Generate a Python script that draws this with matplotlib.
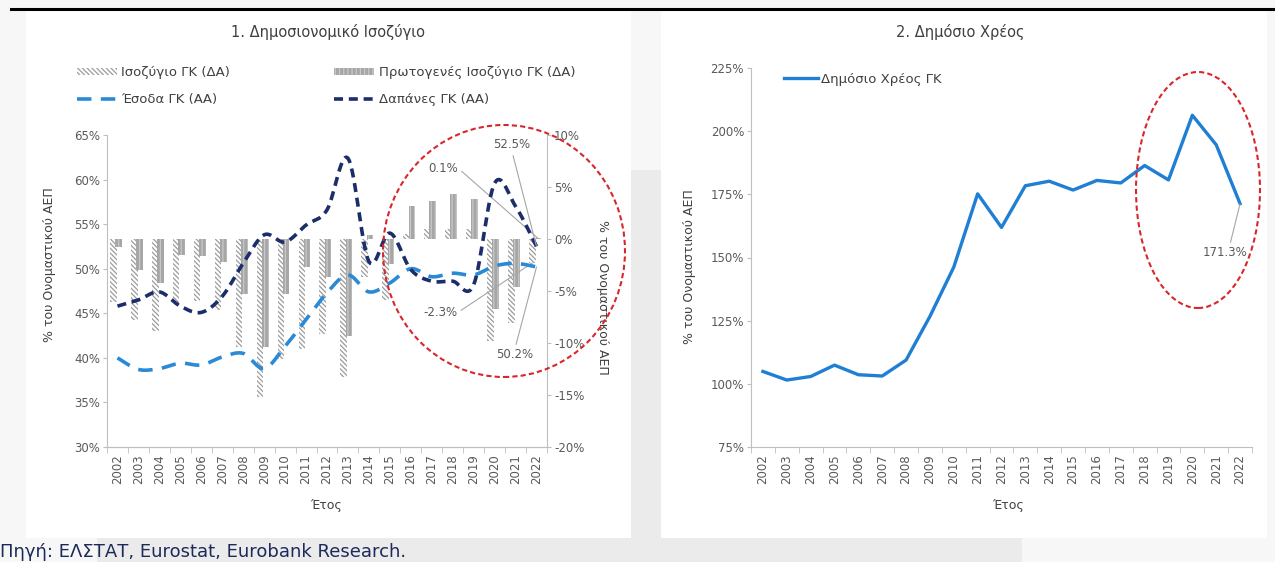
import numpy as np
import matplotlib
matplotlib.use('Agg')
import matplotlib.pyplot as plt
from matplotlib.patches import Ellipse, Rectangle, Patch
from matplotlib.lines import Line2D

plt.rcParams['font.family'] = ['DejaVu Sans']
plt.rcParams['hatch.linewidth'] = 0.9

# ---------------- data ----------------
years = [str(y) for y in range(2002, 2023)]
balance = [-6.1, -7.8, -8.8, -6.2, -6.0, -6.8, -10.4, -15.2, -11.5, -10.6, -9.1,
           -13.3, -3.7, -5.9, 0.5, 1.0, 1.0, 1.0, -9.8, -8.1, -2.3]
primary = [-0.8, -3.0, -4.2, -1.5, -1.6, -2.2, -5.3, -10.4, -5.3, -2.7, -3.7,
           -9.3, 0.4, -2.4, 3.2, 3.7, 4.3, 3.8, -6.7, -4.6, 0.1]
revenue = [40.0, 38.7, 38.8, 39.4, 39.2, 40.1, 40.5, 38.8, 41.3, 44.3, 47.3,
           49.3, 47.4, 48.4, 50.0, 49.1, 49.5, 49.3, 50.3, 50.6, 50.2]
expenditure = [45.8, 46.5, 47.4, 45.8, 45.1, 46.9, 50.6, 53.8, 53.0, 54.9, 56.6,
               62.4, 50.8, 54.0, 49.9, 48.6, 48.6, 48.2, 59.6, 57.0, 52.5]
debt = [104.9, 101.5, 102.9, 107.4, 103.6, 103.1, 109.4, 126.7, 146.2, 175.2, 161.9,
        178.4, 180.2, 176.7, 180.5, 179.5, 186.4, 180.7, 206.3, 194.6, 171.3]

left_ticks = [30, 35, 40, 45, 50, 55, 60, 65]
right_ticks = [-20, -15, -10, -5, 0, 5, 10]
debt_ticks = [75, 100, 125, 150, 175, 200, 225]

title1 = '1. Δημοσιονομικό Ισοζύγιο'
title2 = '2. Δημόσιο Χρέος'
ylab = '% του Ονομαστικού ΑΕΠ'
xlab = 'Έτος'
lab_bal = 'Ισοζύγιο ΓΚ (ΔΑ)'
lab_prim = 'Πρωτογενές Ισοζύγιο ΓΚ (ΔΑ)'
lab_rev = 'Έσοδα ΓΚ (ΑΑ)'
lab_exp = 'Δαπάνες ΓΚ (ΑΑ)'
lab_debt = 'Δημόσιο Χρέος ΓΚ'
source = 'Πηγή: ΕΛΣΤΑΤ, Eurostat, Eurobank Research.'

# ---------------- style ----------------
W, H = 1275, 562
TXT = '#595959'
SPINE = '#bfbfbf'
C_REV = '#2a8ad6'
C_EXP = '#1c2d6b'
C_DEBT = '#1f7fd4'
C_RED = '#d9262b'
C_HATCH = '#9c9c9c'
C_PRIM = '#a6a6a6'
HATCH_B = '\\\\\\\\\\\\\\'
TS = 8.5


def fx(px):
    return px / W


def fy(py):
    return 1 - py / H


def smooth(xs, ys, n=16):
    P = np.column_stack([np.asarray(xs, float), np.asarray(ys, float)])
    out = [P[0]]
    t = np.linspace(0, 1, n)[1:, None]
    for i in range(len(P) - 1):
        p0 = P[i - 1] if i > 0 else P[i]
        p1, p2 = P[i], P[i + 1]
        p3 = P[i + 2] if i + 2 < len(P) else P[i + 1]
        c1 = p1 + (p2 - p0) / 6
        c2 = p2 - (p3 - p1) / 6
        seg = (1 - t) ** 3 * p1 + 3 * (1 - t) ** 2 * t * c1 + 3 * (1 - t) * t ** 2 * c2 + t ** 3 * p2
        out.extend(seg)
    out = np.array(out)
    return out[:, 0], out[:, 1]


fig = plt.figure(figsize=(W / 100, H / 100), dpi=100, facecolor='#f7f7f7')


def rect(x0, y0, x1, y1, color):
    fig.add_artist(Rectangle((fx(x0), fy(y1)), fx(x1) - fx(x0), fy(y0) - fy(y1),
                             transform=fig.transFigure, facecolor=color,
                             edgecolor='none', zorder=-10))


rect(26, 10, 631, 538, 'white')
rect(661, 10, 1267, 538, 'white')
rect(631, 170, 661, 538, '#ebebeb')
rect(97, 538, 1022, 562, '#ebebeb')
fig.add_artist(Line2D([fx(11), 1], [fy(9), fy(9)], transform=fig.transFigure,
                      color='black', lw=2.2, zorder=5))

x = np.arange(len(years))

# ---------------- left chart ----------------
axL = fig.add_axes([fx(107), fy(447), fx(547) - fx(107), fy(135) - fy(447)])
axB = axL.twinx()
axL.set_zorder(axB.get_zorder() + 1)
axL.patch.set_visible(False)
axB.patch.set_visible(False)

axB.bar(x - 0.2, balance, width=0.32, facecolor='white', edgecolor=C_HATCH,
        hatch=HATCH_B, lw=0, zorder=2)
axB.bar(x + 0.05, primary, width=0.32, facecolor=C_PRIM, edgecolor='#c8c8c8',
        hatch='||||', lw=0, zorder=3)

sx, sy = smooth(x, revenue)
axL.plot(sx, sy, color=C_REV, lw=2.6, linestyle=(0, (4, 2.6)), solid_capstyle='butt')
sx, sy = smooth(x, expenditure)
axL.plot(sx, sy, color=C_EXP, lw=2.6, linestyle=(0, (2.5, 1.6)), solid_capstyle='butt')

axL.set_xlim(-0.5, len(years) - 0.5)
axL.set_ylim(30, 65)
axB.set_ylim(-20, 10)
axL.set_yticks(left_ticks)
axL.set_yticklabels([f'{v}%' for v in left_ticks])
axB.set_yticks(right_ticks)
axB.set_yticklabels([f'{v}%' for v in right_ticks])

for a in (axL, axB):
    for s in a.spines.values():
        s.set_color(SPINE)
    a.spines['top'].set_visible(False)
axL.spines['right'].set_visible(False)
axB.spines['left'].set_visible(False)

axL.set_xticks(x)
axL.set_xticklabels(years, rotation=90)
axL.set_xticks(np.arange(-0.5, len(years), 1), minor=True)
axL.tick_params(axis='x', which='major', length=0, pad=5, labelsize=TS, labelcolor=TXT)
axL.tick_params(axis='x', which='minor', length=4, color=SPINE)
axL.tick_params(axis='y', length=3, color=SPINE, labelsize=TS, labelcolor=TXT, pad=2)
axB.tick_params(axis='y', length=3, color=SPINE, labelsize=TS, labelcolor=TXT, pad=2)

# annotations (left)
arrow = dict(arrowstyle='-', color='#a6a6a6', lw=0.8, shrinkA=1, shrinkB=0)
axB.annotate('0.1%', xy=(x[-1] + 0.05, primary[-1]), xytext=(443, H - 168),
             textcoords='figure pixels', ha='center', va='center', fontsize=TS, color=TXT,
             arrowprops=dict(arrow, relpos=(1, 0.5)))
axL.annotate('52.5%', xy=(x[-1], expenditure[-1]), xytext=(512, H - 145),
             textcoords='figure pixels', ha='center', va='center', fontsize=TS, color=TXT,
             arrowprops=dict(arrow, relpos=(0.5, 0)))
axL.annotate('50.2%', xy=(x[-1], revenue[-1]), xytext=(515, H - 355),
             textcoords='figure pixels', ha='center', va='center', fontsize=TS, color=TXT,
             arrowprops=dict(arrow, relpos=(0.5, 1)))
axB.annotate('-2.3%', xy=(x[-1] - 0.2, balance[-1]), xytext=(440, H - 313),
             textcoords='figure pixels', ha='center', va='center', fontsize=TS, color=TXT,
             arrowprops=dict(arrow, relpos=(1, 0.5)))

# legend (left)
handles = [Patch(facecolor='white', edgecolor=C_HATCH, hatch=HATCH_B, lw=0),
           Line2D([], [], color=C_REV, lw=2.6, linestyle=(0, (4, 2.6))),
           Patch(facecolor=C_PRIM, edgecolor='#c8c8c8', hatch='||||', lw=0),
           Line2D([], [], color=C_EXP, lw=2.6, linestyle=(0, (2.5, 1.6)))]
labels = [lab_bal, lab_rev, lab_prim, lab_exp]
fig.legend(handles, labels, ncol=2, loc='upper left', bbox_to_anchor=(fx(77), fy(66)),
           frameon=False, fontsize=9.5, labelcolor='#404040', handlelength=3.0,
           handleheight=0.45, handletextpad=0.35, columnspacing=7.9, labelspacing=1.05,
           borderpad=0, borderaxespad=0)

fig.text(fx(328), fy(32), title1, ha='center', va='center', fontsize=10.5, color='#404040')
fig.text(fx(50), fy(265), ylab, ha='center', va='center', rotation=90, fontsize=9, color='#404040')
fig.text(fx(603), fy(297), ylab, ha='center', va='center', rotation=270, fontsize=9, color='#404040')
fig.text(fx(326), fy(506), xlab, ha='center', va='center', fontsize=9, color='#404040')

# ---------------- right chart ----------------
axR = fig.add_axes([fx(751), fy(447), fx(1252) - fx(751), fy(68) - fy(447)])
axR.patch.set_visible(False)
ln, = axR.plot(x, debt, color=C_DEBT, lw=2.4, solid_joinstyle='round')
axR.set_xlim(-0.5, len(years) - 0.5)
axR.set_ylim(75, 225)
axR.set_yticks(debt_ticks)
axR.set_yticklabels([f'{v}%' for v in debt_ticks])
for s in axR.spines.values():
    s.set_color(SPINE)
axR.spines['top'].set_visible(False)
axR.spines['right'].set_visible(False)
axR.set_xticks(x)
axR.set_xticklabels(years, rotation=90)
axR.set_xticks(np.arange(-0.5, len(years), 1), minor=True)
axR.tick_params(axis='x', which='major', length=0, pad=5, labelsize=TS, labelcolor=TXT)
axR.tick_params(axis='x', which='minor', length=4, color=SPINE)
axR.tick_params(axis='y', length=3, color=SPINE, labelsize=TS, labelcolor=TXT, pad=2)

axR.annotate('171.3%', xy=(x[-1], debt[-1]), xytext=(1225, H - 253),
             textcoords='figure pixels', ha='center', va='center', fontsize=TS, color=TXT,
             arrowprops=dict(arrow, relpos=(0.6, 1)))
axR.legend([ln], [lab_debt], loc='upper left', bbox_to_anchor=(fx(784), fy(73)),
           bbox_transform=fig.transFigure, frameon=False, fontsize=9.5, labelcolor='#404040',
           handlelength=2.6, handletextpad=0.2, borderpad=0, borderaxespad=0)

fig.text(fx(960), fy(32), title2, ha='center', va='center', fontsize=10.5, color='#404040')
fig.text(fx(690), fy(267), ylab, ha='center', va='center', rotation=90, fontsize=9, color='#404040')
fig.text(fx(1008), fy(506), xlab, ha='center', va='center', fontsize=9, color='#404040')

# ---------------- red ellipses ----------------
fig.add_artist(Ellipse((fx(504), fy(251)), fx(242), 252 / H, transform=fig.transFigure,
                       fill=False, edgecolor=C_RED, lw=1.5, linestyle=(0, (2.5, 1.5)), zorder=6))
fig.add_artist(Ellipse((fx(1198), fy(190)), fx(124), 236 / H, transform=fig.transFigure,
                       fill=False, edgecolor=C_RED, lw=1.5, linestyle=(0, (2.5, 1.5)), zorder=6))

fig.text(fx(0), fy(552), source, ha='left', va='center', fontsize=13, color='#1c2a5a')

fig.savefig('out.png', dpi=100, facecolor=fig.get_facecolor())
